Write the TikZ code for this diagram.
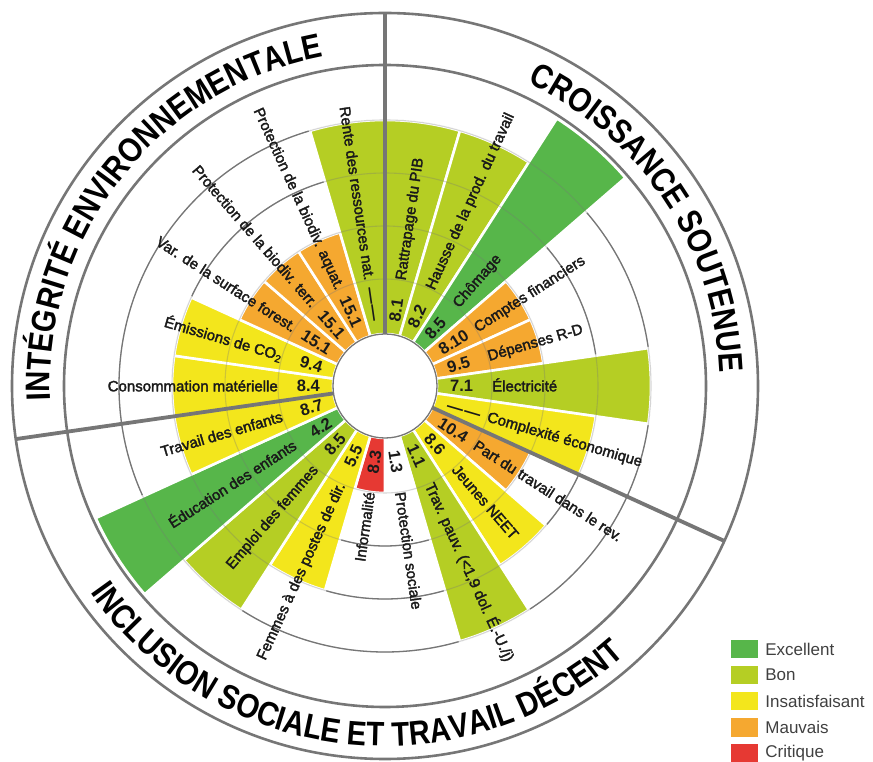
\documentclass[tikz,border=0pt]{standalone}
\usepackage{fontspec}
\usetikzlibrary{decorations.text}
\setmainfont{Liberation Sans}
\newfontfamily\lblfont[FakeBold=2.2]{Liberation Sans}
\newfontfamily\valfont{Liberation Sans Bold}
\newfontfamily\titlefont[FakeStretch=0.86]{Liberation Sans Bold}
\newfontfamily\legfont{Liberation Sans}

\definecolor{cExc}{HTML}{57B64A}
\definecolor{cBon}{HTML}{B5CE24}
\definecolor{cIns}{HTML}{F3E61C}
\definecolor{cMau}{HTML}{F5A830}
\definecolor{cCri}{HTML}{E63933}
\definecolor{lineg}{HTML}{767676}
\definecolor{inkc}{HTML}{1A1A1A}

% value shown when no figure is available
\newcommand\nodata{\textemdash\kern1.5pt\textemdash}

\begin{document}
\begin{tikzpicture}[x=1pt,y=1pt,
  gridline/.style={draw=lineg, line width=1.3pt},
  gridfaint/.style={draw=lineg, line width=1.1pt, draw opacity=0.3},
  bandline/.style={draw=lineg, line width=2.6pt},
  divider/.style={draw=lineg, line width=3.8pt},
  barsep/.style={draw=white, line width=2.6pt},
  vallbl/.style={font=\valfont\fontsize{16.5}{16.5}\selectfont, text=inkc,
    inner sep=0pt, text height=11.8pt, text depth=0pt},
  namelbl/.style={font=\lblfont\fontsize{15}{15}\selectfont, text=inkc,
    inner sep=0pt, text height=10.7pt, text depth=0pt},
  legbox/.style={minimum width=27pt, minimum height=18.5pt, inner sep=0pt},
  legtext/.style={font=\legfont\fontsize{17}{17}\selectfont, text=black!75,
    inner sep=0pt, anchor=west}
]
\useasboundingbox (-385,-376) rectangle (488,386);

% rings of the rating scale
\foreach \r in {107,160,213,266}
  \draw[gridline] (0,0) circle[radius=\r pt];

% one bar per indicator: index / colour / outer radius
\foreach \i/\c/\r in {0/cBon/266, 1/cBon/266, 2/cExc/318, 3/cMau/160,
    4/cMau/160, 5/cBon/266, 6/cIns/213, 7/cMau/160, 8/cIns/213,
    9/cBon/266, 10/white/107, 11/cCri/107, 12/cIns/213, 13/cBon/266,
    14/cExc/318, 15/cIns/213, 16/cIns/213, 17/cIns/213, 18/cMau/160,
    19/cMau/160, 20/cMau/160, 21/cBon/266}{
  \pgfmathsetmacro\aA{90-\i*360/22}
  \pgfmathsetmacro\aB{90-(\i+1)*360/22}
  \filldraw[fill=\c, barsep] (\aA:52pt) arc[start angle=\aA, end angle=\aB, radius=52pt]
    -- (\aB:\r pt) arc[start angle=\aB, end angle=\aA, radius=\r pt] -- cycle;
}

% rings seen faintly through the bars
\foreach \r in {107,160,213,266}
  \draw[gridfaint] (0,0) circle[radius=\r pt];

% central hole and the title band
\draw[gridline] (0,0) circle[radius=52pt];
\draw[bandline] (0,0) circle[radius=321pt];
\draw[bandline] (0,0) circle[radius=373pt];

% dividers between the three pillars
\draw[divider] (90:52pt) -- (90:373pt);
\draw[divider] ({90-7*360/22}:52pt) -- ({90-7*360/22}:373pt);
\draw[divider] ({90-16*360/22}:52pt) -- ({90-16*360/22}:373pt);

% values and indicator names, read outwards on the right, inwards on the left
\foreach \i/\v/\n in {0/8.1/Rattrapage du PIB,
    1/8.2/Hausse de la prod. du travail,
    2/8.5/Chômage,
    3/8.10/Comptes financiers,
    4/9.5/Dépenses R-D,
    5/7.1/Électricité,
    6/\nodata/Complexité économique,
    7/10.4/Part du travail dans le rev.,
    8/8.6/Jeunes NEET,
    9/1.1/{Trav. pauv. (<1,9 dol. É.-U./j)},
    10/1.3/Protection sociale,
    11/8.3/Informalité,
    12/5.5/Femmes à des postes de dir.,
    13/8.5/Emploi des femmes,
    14/4.2/Éducation des enfants,
    15/8.7/Travail des enfants,
    16/8.4/Consommation matérielle,
    17/9.4/{Émissions de CO\textsubscript{2}},
    18/15.1/Var. de la surface forest.,
    19/15.1/Protection de la biodiv. terr.,
    20/15.1/Protection de la biodiv. aquat.,
    21/\nodata/Rente des ressources nat.}{
  \pgfmathsetmacro\a{90-(\i+0.5)*360/22}
  \pgfmathsetmacro\cs{cos(\a)}
  \ifdim\cs pt<0pt
    \pgfmathsetmacro\rot{\a+180}\def\anc{east}
  \else
    \pgfmathsetmacro\rot{\a}\def\anc{west}
  \fi
  \node[vallbl, rotate=\rot, anchor=\anc] (v\i) at (\a:65pt) {\v};
  \node[namelbl, rotate=\rot, anchor=\anc] (n\i) at (\a:107pt) {\n};
}

% pillar titles set along the band
\path[decorate, decoration={text along path, text align=center,
    text={|\titlefont\fontsize{34}{34}\selectfont|INTÉGRITÉ ENVIRONNEMENTALE}}]
  (201.5:335pt) arc[start angle=201.5, end angle=81.5, radius=335pt];
\path[decorate, decoration={text along path, text align=center,
    text={|\titlefont\fontsize{34}{34}\selectfont|CROISSANCE SOUTENUE}}]
  (93.5:335pt) arc[start angle=93.5, end angle=-26.5, radius=335pt];
\path[decorate, decoration={text along path, text align=center,
    text={|\titlefont\fontsize{34}{34}\selectfont|INCLUSION SOCIALE ET TRAVAIL DÉCENT}}]
  (193.4:360pt) arc[start angle=193.4, end angle=333.4, radius=360pt];

% legend
\foreach \k/\c/\t [count=\j from 0] in {Exc/cExc/Excellent, Bon/cBon/Bon,
    Ins/cIns/Insatisfaisant, Mau/cMau/Mauvais, Cri/cCri/Critique}{
  \node[legbox, fill=\c] (lg\k) at (359.5,-263-26.1*\j) {};
  \node[legtext] (lt\k) at ([xshift=7pt]lg\k.east) {\t};
}
\end{tikzpicture}
\end{document}
